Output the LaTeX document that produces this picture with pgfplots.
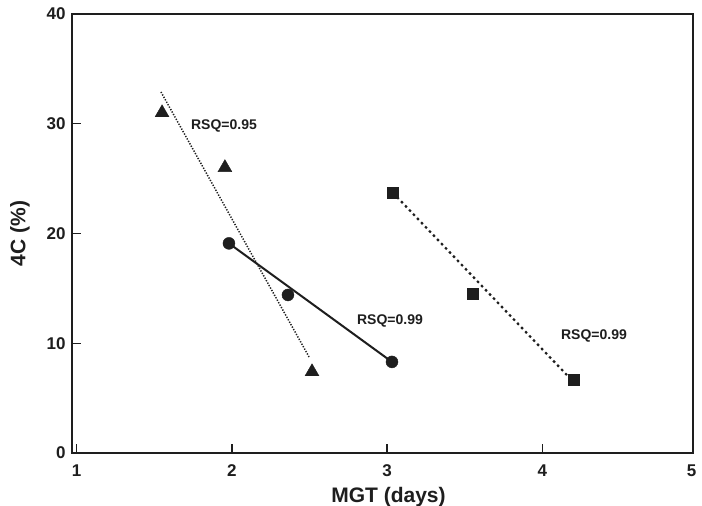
\documentclass[border=0pt]{standalone}
\usepackage{pgfplots}
\pgfplotsset{compat=1.18}
\usepackage{fontspec}
\setmainfont{Liberation Sans}
\definecolor{ink}{HTML}{1E1E1E}
\begin{document}
\begin{tikzpicture}[x=1pt,y=1pt]
\path[use as bounding box, fill=white] (0,0) rectangle (702,506);
\begin{axis}[
  at={(72pt,53pt)}, anchor=south west,
  scale only axis, width=621pt, height=439pt,
  xmin=0.97, xmax=4.97, ymin=0, ymax=40,
  xtick={1,2,3,4}, ytick={0,10,20,30,40},
  xtick pos=left, ytick pos=left,
  tick align=inside,
  major tick length=9pt,
  axis line style={line width=1.6pt, ink},
  every tick/.style={line width=1.4pt, ink},
  tick label style={font=\fontsize{17}{19}\selectfont\bfseries, text=ink},
  xticklabel style={yshift=-8pt},
  yticklabel style={xshift=-3pt},
  /pgf/number format/assume math mode=true,
  xlabel={MGT (days)}, ylabel={4C (\%)},
  label style={font=\fontsize{21}{23}\selectfont\bfseries, text=ink},
  xlabel style={yshift=-4pt, xshift=6pt},
  ylabel style={yshift=10pt},
  clip=false,
]
% triangles series
\addplot[ink, line width=1.5pt, dash pattern=on 1.3pt off 1.5pt] coordinates {(1.543,32.9) (2.497,8.75)};
\addplot[only marks, mark=triangle*, mark size=8pt, ink, mark options={fill=ink}] coordinates {(1.55,31.0) (1.955,26.0) (2.516,7.4)};
% circles series
\addplot[ink, line width=2pt] coordinates {(1.981,19.1) (3.031,8.3)};
\addplot[only marks, mark=*, mark size=6pt, ink, mark options={fill=ink}] coordinates {(1.981,19.1) (2.361,14.4) (3.031,8.3)};
% squares series
\addplot[ink, line width=2.2pt, dash pattern=on 2.5pt off 3.3pt] coordinates {(3.038,23.7) (4.158,7.1)};
\addplot[only marks, mark=square*, mark size=5.5pt, ink, mark options={fill=ink}] coordinates {(3.038,23.7) (3.553,14.5) (4.204,6.7)};
\node[font=\fontsize{14}{16}\selectfont\bfseries, text=ink] at (axis cs:1.949,29.8) {RSQ=0.95};
\node[font=\fontsize{14}{16}\selectfont\bfseries, text=ink] at (axis cs:3.018,12.0) {RSQ=0.99};
\node[font=\fontsize{14}{16}\selectfont\bfseries, text=ink] at (axis cs:4.332,10.7) {RSQ=0.99};
\node[font=\fontsize{17}{19}\selectfont\bfseries, text=ink, anchor=north, inner sep=1pt] at ([yshift=-11pt, xshift=-6pt]axis cs:5,0) {5};
\end{axis}
\end{tikzpicture}
\end{document}
